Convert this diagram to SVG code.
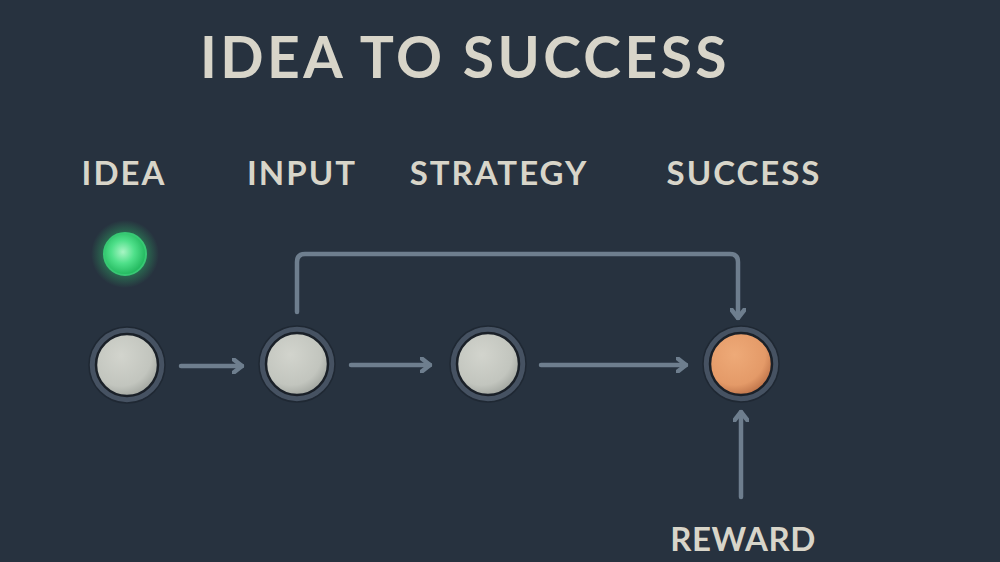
<svg xmlns="http://www.w3.org/2000/svg" width="1000" height="562" viewBox="0 0 1000 562">
<defs>
<style>
.txt{font-family:"Lato","Open Sans","Liberation Sans",sans-serif;font-weight:700;fill:#d8d5c9;}
.title{font-size:57px;letter-spacing:3.4px;}
.lbl{font-size:33px;letter-spacing:2px;}
.rw{letter-spacing:0.5px;}
.conn{fill:none;stroke:#6e7e8e;stroke-width:4.5;stroke-linecap:round;stroke-linejoin:round;}
.ring{fill:#465262;stroke:#1f2833;stroke-width:1.5;}
.gray{fill:url(#gGray);stroke:#1a2028;stroke-width:2.5;}
.orange{fill:url(#gOrange);stroke:#1a2028;stroke-width:2.5;}
</style>
<radialGradient id="gGray" cx="0.4" cy="0.35" r="0.7">
<stop offset="0" stop-color="#d2d4cd"/>
<stop offset="0.7" stop-color="#c2c5be"/>
<stop offset="1" stop-color="#9ea29c"/>
</radialGradient>
<radialGradient id="gOrange" cx="0.4" cy="0.35" r="0.7">
<stop offset="0" stop-color="#eeaa78"/>
<stop offset="0.7" stop-color="#e49a68"/>
<stop offset="1" stop-color="#b96e45"/>
</radialGradient>
<radialGradient id="gGreen" cx="0.45" cy="0.45" r="0.55">
<stop offset="0" stop-color="#a8f5c4"/>
<stop offset="0.5" stop-color="#4fe08a"/>
<stop offset="1" stop-color="#22b85e"/>
</radialGradient>
<radialGradient id="gGlow" cx="0.5" cy="0.5" r="0.5">
<stop offset="0.4" stop-color="#30d070" stop-opacity="0.55"/>
<stop offset="1" stop-color="#30d070" stop-opacity="0"/>
</radialGradient>
<marker id="arr" viewBox="0 0 12 16" refX="10" refY="8" markerWidth="12" markerHeight="16" markerUnits="userSpaceOnUse" orient="auto">
<path d="M1,1 L10,8 L1,15" fill="none" stroke="#6e7e8e" stroke-width="4.5" stroke-linecap="round" stroke-linejoin="round"/>
</marker>
</defs>
<rect width="1000" height="562" fill="#27323f"/>
<text class="txt title" x="465" y="78" text-anchor="middle">IDEA TO SUCCESS</text>
<g id="connectors">
<path class="conn" d="M181,366 L242,366" marker-end="url(#arr)"/>
<path class="conn" d="M351,365 L430,365" marker-end="url(#arr)"/>
<path class="conn" d="M541,365 L686,365" marker-end="url(#arr)"/>
<path class="conn" d="M297,312 L297,262 Q297,254 305,254 L730,254 Q738,254 738,262 L738,318" marker-end="url(#arr)"/>
<path class="conn" d="M741,497 L741,412" marker-end="url(#arr)"/>
</g>
<g id="led">
<circle cx="125" cy="254" r="34" fill="url(#gGlow)"/>
<circle cx="125" cy="254" r="21" fill="url(#gGreen)" stroke="#38c874" stroke-width="2"/>
</g>
<g id="idea">
<text class="txt lbl" x="124" y="185" text-anchor="middle">IDEA</text>
<circle class="ring" cx="127" cy="365" r="38"/>
<circle class="gray" cx="127" cy="365" r="31"/>
</g>
<g id="input">
<text class="txt lbl" x="302" y="185" text-anchor="middle">INPUT</text>
<circle class="ring" cx="297" cy="364" r="38"/>
<circle class="gray" cx="297" cy="364" r="31"/>
</g>
<g id="strategy">
<text class="txt lbl" x="499" y="185" text-anchor="middle">STRATEGY</text>
<circle class="ring" cx="488" cy="364" r="38"/>
<circle class="gray" cx="488" cy="364" r="31"/>
</g>
<g id="success">
<text class="txt lbl" x="744" y="185" text-anchor="middle">SUCCESS</text>
<circle class="ring" cx="741" cy="364" r="38"/>
<circle class="orange" cx="741" cy="364" r="31"/>
</g>
<g id="reward">
<text class="txt lbl rw" x="743" y="551" text-anchor="middle">REWARD</text>
</g>
</svg>
